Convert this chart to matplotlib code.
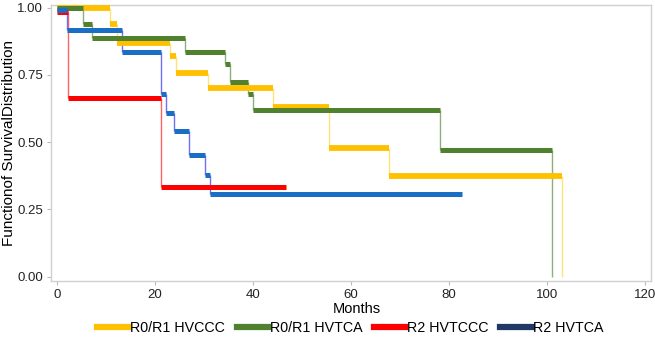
import matplotlib
matplotlib.use("Agg")
import matplotlib.pyplot as plt
from matplotlib.lines import Line2D

plt.rcParams['font.family'] = ['Liberation Sans', 'DejaVu Sans']

# ---- data ----
labels = ["R0/R1 HVCCC", "R0/R1 HVTCA", "R2 HVTCCC", "R2 HVTCA"]

yellow_time = [0, 10.8, 12.3, 23.0, 24.2, 30.8, 44.0, 55.5, 67.7, 103.0]
yellow_surv = [1.00, 0.94, 0.87, 0.82, 0.757, 0.70, 0.632, 0.478, 0.375, 0.0]
yellow_end = 103.0

green_time = [0, 5.3, 7.1, 26.1, 34.3, 35.2, 39.0, 40.0, 78.2, 101.0]
green_surv = [1.00, 0.94, 0.887, 0.835, 0.79, 0.725, 0.68, 0.618, 0.47, 0.0]
green_end = 101.0

red_time = [0, 2.2, 21.2]
red_surv = [0.983, 0.665, 0.335]
red_end = 46.7

blue_time = [0, 2.0, 13.3, 21.2, 22.2, 23.9, 27.0, 30.2, 31.2]
blue_surv = [0.99, 0.917, 0.835, 0.68, 0.608, 0.54, 0.452, 0.378, 0.308]
blue_end = 82.7

x_ticks = [0, 20, 40, 60, 80, 100, 120]
y_ticks = [0.00, 0.25, 0.50, 0.75, 1.00]
y_tick_labels = ["0.00", "0.25", "0.50", "0.75", "1.00"]

series = [
    (yellow_time, yellow_surv, yellow_end, "#FFC000", "#FFE37A", "#FFC000", 4.2),
    (green_time, green_surv, green_end, "#4F812F", "#8EAF7C", "#4F812F", 3.6),
    (red_time, red_surv, red_end, "#FF0000", "#FF6060", "#FF0000", 3.6),
    (blue_time, blue_surv, blue_end, "#1A6FC4", "#6F6FF0", "#1F3864", 3.6),
]

fig = plt.figure(figsize=(6.55, 3.4), dpi=100)
ax = fig.add_axes([0.078, 0.174, 0.916, 0.811])

for t, s, end, hc, vc, lc, lw in series:
    n = len(t)
    for i in range(n):
        x0 = t[i]
        x1 = t[i + 1] if i + 1 < n else end
        if x1 > x0:
            ax.hlines(s[i], x0, x1, colors=hc, lw=lw, zorder=3)
        if i > 0:
            ax.vlines(t[i], s[i], s[i - 1], colors=vc, lw=1.0, zorder=2)

ax.set_xlim(-1.2, 121.2)
ax.set_ylim(-0.015, 1.009)
ax.set_xticks(x_ticks)
ax.set_yticks(y_ticks)
ax.set_yticklabels(y_tick_labels)
ax.tick_params(axis='both', labelsize=9.5, colors='#222222', length=3,
               width=0.8, direction='out', pad=3)
ax.tick_params(axis='both', color='#BBBBBB')
for sp in ax.spines.values():
    sp.set_color('#D0D0D0')
    sp.set_linewidth(1.0)

ax.set_xlabel("Months", fontsize=10.5)
ax.xaxis.set_label_coords(0.51, -0.075)
ax.set_ylabel("Functionof SurvivalDistribution", fontsize=11)
ax.yaxis.set_label_coords(-0.058, 0.5)

handles = [Line2D([0], [0], color=s[5], lw=4.5) for s in series]
fig.legend(handles, labels, loc='center', ncol=4, frameon=False,
           fontsize=10.3, bbox_to_anchor=(0.535, 0.035), handlelength=2.2,
           handletextpad=0.12, columnspacing=0.8)

fig.savefig("out.png", dpi=100)
